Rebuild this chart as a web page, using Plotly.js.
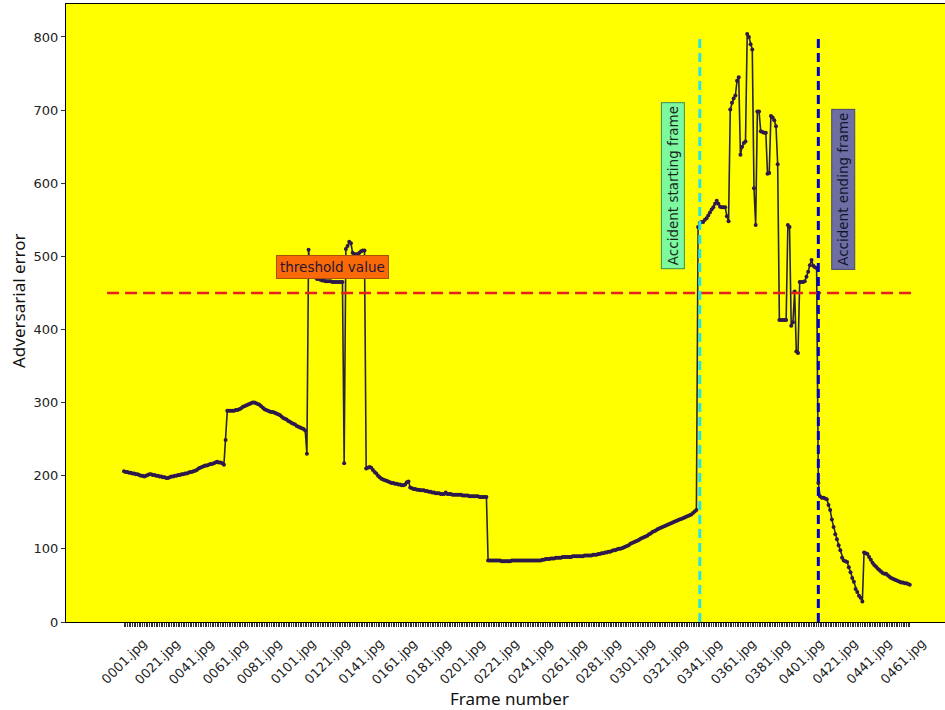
<!DOCTYPE html>
<html>
<head>
<meta charset="utf-8">
<script src="https://cdn.plot.ly/plotly-3.0.1.min.js"></script>
<style>html,body{margin:0;padding:0;background:#fff;}#chart{width:945px;height:710px;}</style>
</head>
<body>
<div id="chart"></div>
<script>
// Adversarial error per frame (0001.jpg ... 0465.jpg)
const errorValues = [
206,205,205,204,204,203,203,202,202,201,200,200,199,200,201,202,202,201,201,200,
200,199,199,198,198,197,197,198,199,199,200,200,201,201,202,202,203,203,204,205,
205,206,207,208,210,211,212,213,214,214,215,216,216,217,218,219,218,218,217,215,
249,289,289,289,289,289,290,290,291,292,294,295,296,297,298,299,300,300,299,298,
297,295,293,291,290,289,288,287,287,286,285,284,283,281,279,278,277,275,274,272,
271,270,268,267,266,265,264,262,230,509,478,476,474,471,469,469,468,467,467,466,
466,466,466,465,465,465,465,465,465,465,217,510,514,520,518,505,503,503,503,505,
507,508,508,210,211,212,211,208,205,203,200,198,196,195,194,193,192,191,190,190,
189,189,188,188,187,187,188,191,192,184,183,182,182,181,181,180,180,180,179,179,
178,178,177,177,176,176,176,175,175,175,177,175,175,175,174,174,174,174,174,174,
173,173,173,173,172,172,172,172,172,172,171,171,171,171,171,84,84,84,84,84,
84,84,84,83,83,83,83,83,83,84,84,84,84,84,84,84,84,84,84,84,
84,84,84,84,84,84,84,85,85,86,86,86,87,87,87,88,88,88,88,89,
89,89,89,89,89,90,90,90,90,90,90,90,91,91,91,91,91,92,92,92,
93,93,94,94,95,95,96,96,97,98,98,99,100,100,101,102,103,104,105,107,
108,109,110,111,112,114,115,116,117,118,120,121,123,124,125,127,128,129,130,131,
132,133,134,135,136,137,138,139,140,141,142,143,144,145,146,147,149,151,153,540,
546,547,547,550,552,556,560,564,567,572,576,572,568,567,567,567,555,548,701,710,
716,720,740,745,639,650,655,657,804,800,790,783,593,543,698,698,671,670,669,669,
613,614,692,690,686,678,626,413,413,413,413,413,543,540,405,410,452,370,368,465,
465,465,466,472,479,488,495,487,485,484,190,172,170,170,169,168,160,153,140,130,
120,113,105,98,88,84,83,82,75,68,60,55,45,41,36,33,28,95,94,93,
89,85,81,78,76,73,71,69,67,66,66,64,62,60,59,58,57,56,55,54,
54,53,53,52,51
];
const frameNames = errorValues.map((_, i) => String(i + 1).padStart(4, '0') + '.jpg');
const labelStep = 20;
const yTicks = [0, 100, 200, 300, 400, 500, 600, 700, 800];
const thresholdValue = 450;
const accidentStartIndex = 340;
const accidentEndIndex = 410;
const textLabels = ['threshold value', 'Accident starting frame', 'Accident ending frame'];

const W = 945, H = 710, ML = 66, MR = 0, MT = 4, MB = 88;
const pw = W - ML - MR, ph = H - MT - MB;
const px2paperX = (px) => (px - ML) / pw;
const px2paperY = (py) => (H - MB - py) / ph;

const trace = {
  type: 'scatter',
  mode: 'lines+markers',
  x: frameNames,
  y: errorValues,
  line: {color: 'rgb(40,36,55)', width: 1.6},
  marker: {color: 'rgb(45,25,75)', size: 4},
  hoverinfo: 'x+y',
  showlegend: false
};

const tickFont = {family: 'DejaVu Sans', size: 13, color: '#222'};
const annotations = [];
for (let i = 0; i < frameNames.length; i += labelStep) {
  annotations.push({
    x: i, xref: 'x', y: px2paperY(662), yref: 'paper',
    text: frameNames[i], showarrow: false, textangle: -45,
    xanchor: 'center', yanchor: 'middle', font: tickFont
  });
}
annotations.push({
  x: 123.4, xref: 'x', y: 485, yref: 'y', text: textLabels[0], showarrow: false,
  bgcolor: 'rgb(250,105,8)', bordercolor: 'rgb(170,80,10)', borderwidth: 1, borderpad: 3,
  font: {family: 'DejaVu Sans', size: 13.5, color: '#2a1630'}
});
annotations.push({
  x: 324.2, xref: 'x', y: 596, yref: 'y', text: textLabels[1], showarrow: false, textangle: -90,
  bgcolor: 'rgb(125,250,160)', bordercolor: 'rgb(60,140,80)', borderwidth: 1, borderpad: 3,
  font: {family: 'DejaVu Sans', size: 13.5, color: '#1a2a1a'}
});
annotations.push({
  x: 424.6, xref: 'x', y: 591, yref: 'y', text: textLabels[2], showarrow: false, textangle: -90,
  bgcolor: 'rgb(110,110,165)', bordercolor: 'rgb(70,70,110)', borderwidth: 1, borderpad: 3,
  font: {family: 'DejaVu Sans', size: 13.5, color: '#15152a'}
});
annotations.push({
  x: px2paperX(18), xref: 'paper', xanchor: 'center',
  y: px2paperY(301), yref: 'paper', yanchor: 'middle',
  text: 'Adversarial error', showarrow: false, textangle: -90,
  font: {family: 'Noto Sans', size: 17, color: '#111'}
});
annotations.push({
  x: px2paperX(509), xref: 'paper', xanchor: 'center',
  y: px2paperY(698), yref: 'paper', yanchor: 'middle',
  text: 'Frame number', showarrow: false,
  font: {family: 'Noto Sans', size: 17, color: '#111'}
});

const layout = {
  width: W, height: H,
  margin: {l: ML, r: MR, t: MT, b: MB, pad: 0},
  paper_bgcolor: '#ffffff',
  plot_bgcolor: '#ffff00',
  showlegend: false,
  xaxis: {
    type: 'category',
    range: [-34.25, 484.8],
    tickmode: 'array',
    tickvals: frameNames,
    ticktext: frameNames.map(() => ''),
    showticklabels: false,
    ticks: 'outside', ticklen: 4, tickwidth: 1, tickcolor: '#333',
    showgrid: false, zeroline: false,
    showline: true, linecolor: '#000', linewidth: 1, mirror: true
  },
  yaxis: {
    range: [0, 845.1],
    tickmode: 'array',
    tickvals: yTicks,
    ticks: 'outside', ticklen: 4, tickwidth: 1, tickcolor: '#333',
    tickfont: tickFont,
    showgrid: false, zeroline: false,
    showline: true, linecolor: '#000', linewidth: 1, mirror: true
  },
  shapes: [
    {type: 'line', xref: 'x', yref: 'y', x0: -10, x1: 465, y0: thresholdValue, y1: thresholdValue,
     line: {color: 'rgb(225,35,25)', width: 2.5, dash: '12px,6px'}},
    {type: 'line', xref: 'x', yref: 'y', x0: accidentStartIndex, x1: accidentStartIndex, y0: 0, y1: 800,
     line: {color: 'rgb(40,228,225)', width: 3, dash: '9px,5px'}},
    {type: 'line', xref: 'x', yref: 'y', x0: accidentEndIndex, x1: accidentEndIndex, y0: 0, y1: 800,
     line: {color: 'rgb(0,0,205)', width: 3, dash: '9px,5px'}}
  ],
  annotations: annotations
};

Plotly.newPlot('chart', [trace], layout, {displayModeBar: false, staticPlot: true});
</script>
</body>
</html>
